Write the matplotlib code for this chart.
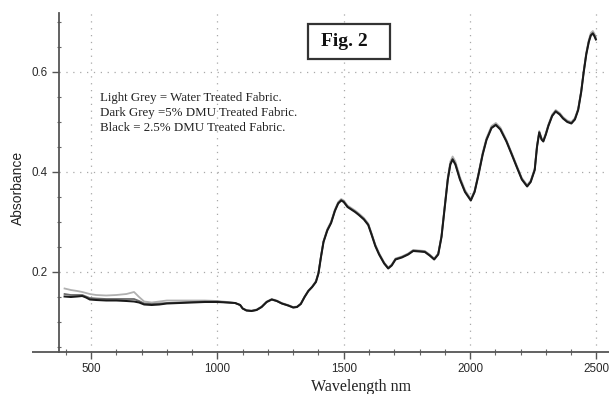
import matplotlib
matplotlib.use("Agg")
import matplotlib.pyplot as plt
from matplotlib.patches import Rectangle
from matplotlib.ticker import MultipleLocator

# ---- data ----
wavelength = [395, 420, 445, 465, 480, 495, 520, 560, 600, 640, 670, 690, 710, 740, 770,
              800, 850, 900, 950, 1000, 1040, 1070, 1090, 1100, 1115, 1135, 1155, 1175,
              1195, 1215, 1235, 1255, 1280, 1300, 1315, 1330, 1345, 1360, 1375, 1390,
              1400, 1410, 1420, 1435, 1450, 1465, 1478, 1490, 1500, 1515, 1530, 1545,
              1560, 1580, 1597, 1610, 1625, 1640, 1660, 1676, 1690, 1705, 1730, 1755,
              1775, 1800, 1821, 1840, 1858, 1874, 1887, 1900, 1912, 1922, 1931, 1942,
              1960, 1980, 2003, 2018, 2032, 2050, 2065, 2085, 2102, 2120, 2144, 2165,
              2184, 2205, 2226, 2240, 2256, 2265, 2274, 2283, 2290, 2300, 2310, 2325,
              2339, 2355, 2368, 2385, 2401, 2415, 2428, 2440, 2450, 2460, 2470, 2478,
              2486, 2492, 2498]

black_2p5_dmu = [0.151, 0.150, 0.151, 0.152, 0.149, 0.145, 0.144, 0.143, 0.143, 0.142, 0.141,
                 0.139, 0.135, 0.134, 0.135, 0.137, 0.138, 0.139, 0.140, 0.140, 0.139, 0.138,
                 0.134, 0.127, 0.123, 0.122, 0.124, 0.130, 0.140, 0.145, 0.142, 0.137, 0.133,
                 0.129, 0.130, 0.136, 0.150, 0.162, 0.170, 0.180, 0.197, 0.230, 0.260, 0.283,
                 0.298, 0.322, 0.337, 0.343, 0.340, 0.330, 0.325, 0.320, 0.314, 0.305, 0.294,
                 0.275, 0.252, 0.235, 0.217, 0.207, 0.213, 0.225, 0.229, 0.235, 0.242, 0.241,
                 0.240, 0.233, 0.225, 0.235, 0.270, 0.330, 0.385, 0.415, 0.425, 0.415, 0.385,
                 0.360, 0.343, 0.360, 0.391, 0.435, 0.464, 0.488, 0.494, 0.485, 0.461, 0.435,
                 0.411, 0.385, 0.371, 0.380, 0.404, 0.450, 0.479, 0.465, 0.461, 0.475, 0.492,
                 0.512, 0.521, 0.515, 0.507, 0.500, 0.497, 0.505, 0.524, 0.560, 0.600, 0.635,
                 0.660, 0.673, 0.677, 0.672, 0.665]

dark_grey_5_dmu = [0.156, 0.154, 0.154, 0.154, 0.151, 0.148, 0.147, 0.146, 0.146, 0.146, 0.146,
                   0.142, 0.137, 0.136, 0.137, 0.138, 0.139, 0.140, 0.141, 0.141, 0.139, 0.138,
                   0.134, 0.127, 0.123, 0.122, 0.124, 0.130, 0.140, 0.145, 0.142, 0.137, 0.133,
                   0.129, 0.130, 0.136, 0.150, 0.162, 0.170, 0.181, 0.198, 0.231, 0.261, 0.284,
                   0.299, 0.323, 0.338, 0.344, 0.341, 0.331, 0.326, 0.321, 0.315, 0.306, 0.295,
                   0.276, 0.253, 0.236, 0.218, 0.208, 0.214, 0.226, 0.230, 0.236, 0.243, 0.242,
                   0.241, 0.234, 0.226, 0.236, 0.271, 0.331, 0.386, 0.416, 0.426, 0.416, 0.386,
                   0.361, 0.344, 0.361, 0.392, 0.436, 0.465, 0.489, 0.495, 0.486, 0.462, 0.436,
                   0.412, 0.386, 0.372, 0.381, 0.405, 0.451, 0.480, 0.466, 0.462, 0.476, 0.493,
                   0.513, 0.522, 0.516, 0.508, 0.501, 0.498, 0.506, 0.525, 0.561, 0.601, 0.636,
                   0.661, 0.674, 0.678, 0.673, 0.666]

light_grey_water = [0.167, 0.164, 0.162, 0.160, 0.158, 0.156, 0.154, 0.153, 0.154, 0.156, 0.160,
                    0.150, 0.141, 0.139, 0.141, 0.143, 0.143, 0.143, 0.143, 0.142, 0.140, 0.138,
                    0.134, 0.127, 0.124, 0.123, 0.125, 0.131, 0.141, 0.146, 0.143, 0.138, 0.134,
                    0.130, 0.131, 0.137, 0.151, 0.163, 0.171, 0.182, 0.199, 0.232, 0.262, 0.286,
                    0.301, 0.325, 0.340, 0.346, 0.343, 0.333, 0.328, 0.323, 0.317, 0.308, 0.297,
                    0.278, 0.255, 0.238, 0.219, 0.209, 0.215, 0.227, 0.231, 0.237, 0.244, 0.243,
                    0.242, 0.235, 0.227, 0.237, 0.273, 0.334, 0.390, 0.421, 0.431, 0.421, 0.390,
                    0.364, 0.346, 0.363, 0.394, 0.439, 0.468, 0.492, 0.498, 0.489, 0.464, 0.438,
                    0.414, 0.388, 0.374, 0.383, 0.407, 0.453, 0.482, 0.468, 0.464, 0.478, 0.495,
                    0.515, 0.524, 0.518, 0.510, 0.503, 0.500, 0.508, 0.527, 0.563, 0.603, 0.639,
                    0.664, 0.678, 0.682, 0.677, 0.670]

x_ticks = [500, 1000, 1500, 2000, 2500]
y_ticks = [0.2, 0.4, 0.6]
legend_lines = ["Light Grey = Water Treated Fabric.",
                "Dark Grey =5% DMU Treated Fabric.",
                "Black = 2.5% DMU Treated Fabric."]

W, H = 609, 394
fig = plt.figure(figsize=(W / 100, H / 100), dpi=100)
fig.patch.set_facecolor("white")

# axes: left edge at the y-axis (px 59) to the right border
ax = fig.add_axes([59 / W, (H - 352) / H, (W - 59) / W, (352 - 13) / H])
ax.set_xlim(373, 2550)
ax.set_ylim(0.04, 0.718)

ax.plot(wavelength, light_grey_water, color="#b0b0b0", lw=1.3, zorder=3)
ax.plot(wavelength, dark_grey_5_dmu, color="#6a6a6a", lw=1.3, zorder=4)
ax.plot(wavelength, black_2p5_dmu, color="#1a1a1a", lw=1.45, zorder=5)

for s in ["top", "right"]:
    ax.spines[s].set_visible(False)
for s in ["left", "bottom"]:
    ax.spines[s].set_color("#555555")
    ax.spines[s].set_linewidth(1.3)

# extend the x axis line to the left of the y axis
ax.plot([-27 / 550, 0], [0, 0], transform=ax.transAxes, color="#555555",
        lw=1.3, clip_on=False, solid_capstyle="butt")

ax.set_xticks(x_ticks)
ax.set_yticks(y_ticks)
ax.set_yticklabels(["0.2", "0.4", "0.6"])
ax.xaxis.set_minor_locator(MultipleLocator(100))
ax.yaxis.set_minor_locator(MultipleLocator(0.05))
ax.tick_params(axis="both", which="major", direction="out", length=5, width=1,
               color="#555555", labelsize=8.4, labelcolor="#2a2a2a", pad=3)
ax.tick_params(axis="x", which="minor", direction="inout", length=4, width=0.8, color="#666666")
ax.tick_params(axis="y", which="minor", direction="inout", length=3, width=0.8, color="#666666")
for lab in ax.get_xticklabels() + ax.get_yticklabels():
    lab.set_family(["Liberation Sans", "DejaVu Sans"])

ax.grid(True, which="major", linestyle=(0, (1, 4.5)), color="#a8a8a8", linewidth=0.9)
ax.set_axisbelow(True)

# labels
fig.text(18 / W, 1 - 188 / H, "Absorbance", rotation=90, ha="center", va="center",
         fontsize=10, family=["Liberation Sans", "DejaVu Sans"], color="#222222")
fig.text(361 / W, 3 / H, "Wavelength nm", ha="center", va="baseline",
         fontsize=11.5, family=["Liberation Serif", "DejaVu Serif"], color="#222222")

# Fig. 2 box
fig.patches.append(Rectangle((308 / W, 1 - 59 / H), 82 / W, 35 / H, transform=fig.transFigure,
                             fill=True, facecolor="white", edgecolor="#333333", lw=1.6, zorder=10))
fig.text(344 / W, 1 - 42 / H, "Fig. 2", ha="center", va="center", fontsize=14,
         fontweight="bold", family=["Liberation Serif", "DejaVu Serif"], color="#111111", zorder=11)

# annotation
for i, line in enumerate(legend_lines):
    fig.text(100 / W, 1 - (98 + 15 * i) / H, line, ha="left", va="center", fontsize=9.3,
             family=["Liberation Serif", "DejaVu Serif"], color="#222222")

fig.savefig("out.png", dpi=100)
